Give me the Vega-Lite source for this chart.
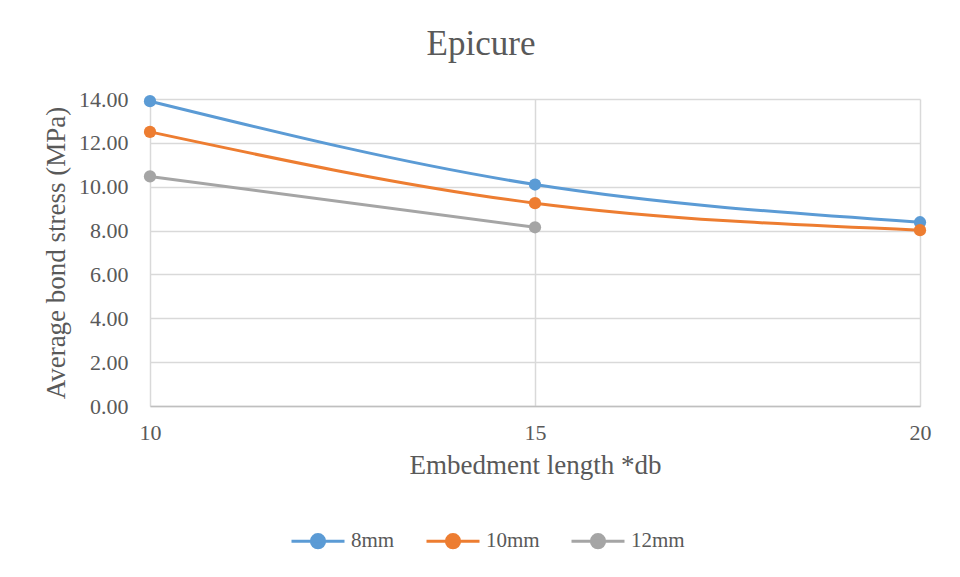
{
  "$schema": "https://vega.github.io/schema/vega-lite/v6.json",
  "autosize": {"type": "none"},
  "width": 770,
  "height": 307,
  "padding": {"left": 150, "top": 99, "right": 40, "bottom": 171},
  "background": "white",
  "title": {
    "text": "Epicure",
    "font": "Liberation Serif",
    "fontSize": 35,
    "fontWeight": "normal",
    "color": "#595959",
    "anchor": "middle",
    "dx": -54,
    "offset": 26
  },
  "data": {
    "values": [
      {"db": 10, "stress": 13.9, "size": "8mm"},
      {"db": 15, "stress": 10.1, "size": "8mm"},
      {"db": 20, "stress": 8.38, "size": "8mm"},
      {"db": 10, "stress": 12.5, "size": "10mm"},
      {"db": 15, "stress": 9.25, "size": "10mm"},
      {"db": 20, "stress": 8.02, "size": "10mm"},
      {"db": 10, "stress": 10.47, "size": "12mm"},
      {"db": 15, "stress": 8.15, "size": "12mm"}
    ]
  },
  "encoding": {
    "x": {
      "field": "db",
      "type": "quantitative",
      "scale": {"domain": [10, 20], "nice": false, "zero": false},
      "axis": {
        "values": [10, 15, 20],
        "title": "Embedment length *db",
        "ticks": false,
        "labelFlush": false,
        "labelPadding": 16,
        "titlePadding": 9,
        "domainColor": "#bfbfbf",
        "domainWidth": 1.5,
        "gridColor": "#d9d9d9",
        "gridWidth": 1.5
      }
    },
    "y": {
      "field": "stress",
      "type": "quantitative",
      "scale": {"domain": [0, 14], "nice": false},
      "axis": {
        "values": [0, 2, 4, 6, 8, 10, 12, 14],
        "format": ".2f",
        "title": "Average bond stress (MPa)",
        "ticks": false,
        "domain": false,
        "labelPadding": 22,
        "titlePadding": 8,
        "gridColor": "#d9d9d9",
        "gridWidth": 1.5
      }
    },
    "color": {
      "field": "size",
      "type": "nominal",
      "sort": ["8mm", "10mm", "12mm"],
      "scale": {"domain": ["8mm", "10mm", "12mm"], "range": ["#5B9BD5", "#ED7D31", "#A5A5A5"]},
      "legend": {
        "title": null,
        "orient": "none",
        "direction": "horizontal",
        "legendX": 140,
        "legendY": 414,
        "symbolType": "M-1,0H1M0.25,0A0.25,0.25,0,1,1,-0.25,0A0.25,0.25,0,1,1,0.25,0Z",
        "symbolSize": 2809,
        "symbolStrokeWidth": 3,
        "labelOffset": 5,
        "columnPadding": 25,
        "labelFont": "Liberation Serif",
        "labelFontSize": 21,
        "labelColor": "#595959",
        "encode": {
          "symbols": {"update": {"fill": {"scale": "color", "field": "value"}, "fillOpacity": {"value": 1}}}
        }
      }
    }
  },
  "layer": [
    {"mark": {"type": "line", "interpolate": "monotone", "strokeWidth": 3}},
    {"mark": {"type": "circle", "size": 150, "opacity": 1}}
  ],
  "config": {
    "view": {"stroke": null},
    "axis": {
      "labelFont": "Liberation Serif",
      "labelFontSize": 22,
      "labelColor": "#595959",
      "titleFont": "Liberation Serif",
      "titleFontSize": 27,
      "titleFontWeight": "normal",
      "titleColor": "#595959"
    }
  }
}
